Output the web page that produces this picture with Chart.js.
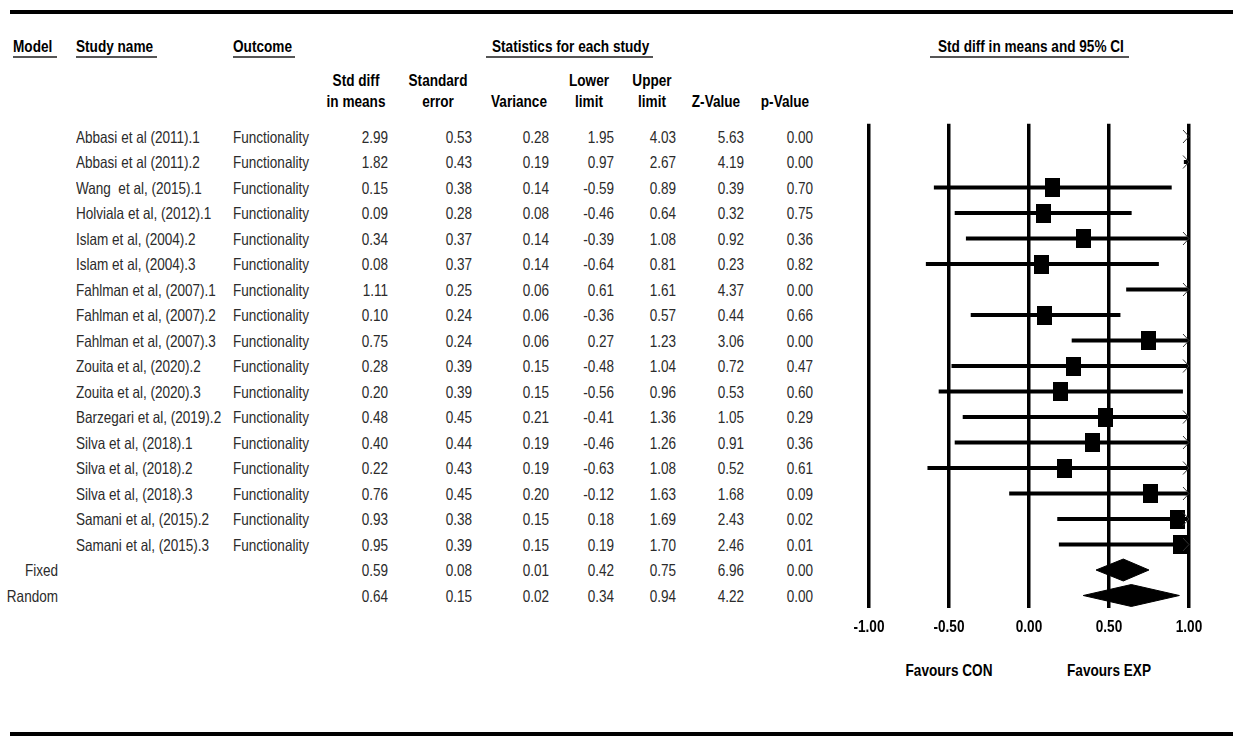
<!DOCTYPE html>
<html>
<head>
<meta charset="utf-8">
<script src="https://cdn.jsdelivr.net/npm/chart.js@4.4.1/dist/chart.umd.min.js"></script>
<style>
html, body { margin: 0; padding: 0; background: #fff; }
#page { position: relative; width: 1238px; height: 739px; overflow: hidden; background: #fff;
        font-family: "Liberation Sans", Arial, sans-serif; }
.t { position: absolute; white-space: pre; line-height: 20px; font-size: 16.5px; color: #2b2b2b; }
.b { font-weight: bold; font-size: 17px; color: #000; }
.rule { position: absolute; background: #000; }
.ul { position: absolute; height: 2px; background: #555; }
#plot { position: absolute; left: 848px; top: 110px; width: 360px; height: 510px; }
</style>
</head>
<body>
<div id="page">
  <canvas id="plot" width="360" height="510"></canvas>
</div>
<script>
// study rows
var studies = ['Abbasi et al (2011).1', 'Abbasi et al (2011).2', 'Wang  et al, (2015).1',
    'Holviala et al, (2012).1', 'Islam et al, (2004).2', 'Islam et al, (2004).3',
    'Fahlman et al, (2007).1', 'Fahlman et al, (2007).2', 'Fahlman et al, (2007).3',
    'Zouita et al, (2020).2', 'Zouita et al, (2020).3', 'Barzegari et al, (2019).2',
    'Silva et al, (2018).1', 'Silva et al, (2018).2', 'Silva et al, (2018).3',
    'Samani et al, (2015).2', 'Samani et al, (2015).3'];
var outcome = 'Functionality';
var stdDiff  = [2.99, 1.82, 0.15, 0.09, 0.34, 0.08, 1.11, 0.10, 0.75, 0.28, 0.20, 0.48, 0.40, 0.22, 0.76, 0.93, 0.95];
var stdErr   = [0.53, 0.43, 0.38, 0.28, 0.37, 0.37, 0.25, 0.24, 0.24, 0.39, 0.39, 0.45, 0.44, 0.43, 0.45, 0.38, 0.39];
var variance = [0.28, 0.19, 0.14, 0.08, 0.14, 0.14, 0.06, 0.06, 0.06, 0.15, 0.15, 0.21, 0.19, 0.19, 0.20, 0.15, 0.15];
var lower    = [1.95, 0.97, -0.59, -0.46, -0.39, -0.64, 0.61, -0.36, 0.27, -0.48, -0.56, -0.41, -0.46, -0.63, -0.12, 0.18, 0.19];
var upper    = [4.03, 2.67, 0.89, 0.64, 1.08, 0.81, 1.61, 0.57, 1.23, 1.04, 0.96, 1.36, 1.26, 1.08, 1.63, 1.69, 1.70];
var zValue   = [5.63, 4.19, 0.39, 0.32, 0.92, 0.23, 4.37, 0.44, 3.06, 0.72, 0.53, 1.05, 0.91, 0.52, 1.68, 2.43, 2.46];
var pValue   = [0.00, 0.00, 0.70, 0.75, 0.36, 0.82, 0.00, 0.66, 0.00, 0.47, 0.60, 0.29, 0.36, 0.61, 0.09, 0.02, 0.01];

// summary rows
var models      = ['Fixed', 'Random'];
var sumStdDiff  = [0.59, 0.64];
var sumStdErr   = [0.08, 0.15];
var sumVariance = [0.01, 0.02];
var sumLower    = [0.42, 0.34];
var sumUpper    = [0.75, 0.94];
var sumZ        = [6.96, 4.22];
var sumP        = [0.00, 0.00];

// axis
var tickValues = [-1, -0.5, 0, 0.5, 1];
var tickLabels = ['-1.00', '-0.50', '0.00', '0.50', '1.00'];

var PLOT_LEFT = 848, PLOT_TOP = 110;
var page = document.getElementById('page');

function addText(str, x, y, align, bold) {
    var el = document.createElement('div');
    el.className = bold ? 't b' : 't';
    el.textContent = str;
    var p = align == 'r' ? 100 : (align == 'c' ? 50 : 0);
    var k = bold ? 0.8 : 0.82;
    el.style.left = x + 'px';
    el.style.top = (y - 10) + 'px';
    el.style.transformOrigin = p + '% 50%';
    el.style.transform = 'translateX(-' + p + '%) scaleX(' + k + ')';
    page.appendChild(el);
}

function addBox(cls, x, y, w, h) {
    var el = document.createElement('div');
    el.className = cls;
    el.style.left = x + 'px';
    el.style.top = y + 'px';
    el.style.width = w + 'px';
    if (h) el.style.height = h + 'px';
    page.appendChild(el);
}

// black box marker for the study points
function makeBox(w, h) {
    var c = document.createElement('canvas');
    c.width = w; c.height = h;
    var g = c.getContext('2d');
    g.fillStyle = '#000';
    g.fillRect(0, 0, w, h);
    return c;
}
var box = makeBox(15, 19);

function diamond(k) {
    var r = studies.length + k, h = 0.43;
    return [{x: sumLower[k], y: r}, {x: sumStdDiff[k], y: r - h},
            {x: sumUpper[k], y: r}, {x: sumStdDiff[k], y: r + h},
            {x: sumLower[k], y: r}];
}

// little ">" where an interval runs off the plotted range
var overflowArrows = {
    id: 'overflowArrows',
    afterDatasetsDraw: function(chart) {
        var ctx = chart.ctx, xs = chart.scales.x, ys = chart.scales.y;
        var xr = xs.getPixelForValue(xs.max);
        ctx.save();
        ctx.strokeStyle = '#333';
        ctx.lineWidth = 1;
        upper.forEach(function(u, i) {
            if (u <= xs.max) return;
            var y = ys.getPixelForValue(i);
            ctx.beginPath();
            ctx.moveTo(xr - 6, y - 6.5);
            ctx.lineTo(xr, y);
            ctx.lineTo(xr - 6, y + 6.5);
            ctx.stroke();
        });
        ctx.restore();
    }
};

var chart = new Chart(document.getElementById('plot'), {
    type: 'scatter',
    data: {
        datasets: [
            {
                type: 'scatter',
                label: 'Std diff in means',
                data: stdDiff.map(function(v, i) { return {x: v, y: i}; }),
                pointStyle: box,
                pointRadius: 9,
                clip: 0,
                order: 0
            },
            {
                type: 'bar',
                label: '95% CI',
                indexAxis: 'y',
                data: lower.map(function(v, i) { return {x: [v, upper[i]], y: i}; }),
                backgroundColor: '#000',
                borderWidth: 0,
                barThickness: 3.5,
                clip: 0,
                order: 1
            },
            {
                type: 'line',
                label: models[0],
                data: diamond(0),
                fill: 'shape',
                backgroundColor: '#000',
                borderColor: '#000',
                borderWidth: 1,
                pointRadius: 0,
                tension: 0,
                order: 2
            },
            {
                type: 'line',
                label: models[1],
                data: diamond(1),
                fill: 'shape',
                backgroundColor: '#000',
                borderColor: '#000',
                borderWidth: 1,
                pointRadius: 0,
                tension: 0,
                order: 2
            }
        ]
    },
    options: {
        responsive: false,
        animation: false,
        events: [],
        layout: {padding: {left: 20.5, right: 19, top: 13.75, bottom: 11.75}},
        plugins: {legend: {display: false}, tooltip: {enabled: false}},
        scales: {
            x: {
                type: 'linear',
                min: -1,
                max: 1,
                afterBuildTicks: function(s) {
                    s.ticks = tickValues.map(function(v) { return {value: v}; });
                },
                grid: {color: '#000', lineWidth: 3.5, drawTicks: false},
                border: {display: false},
                ticks: {display: false}
            },
            y: {
                type: 'linear',
                min: -0.5,
                max: studies.length + models.length - 0.5,
                reverse: true,
                offset: false,
                display: false
            }
        }
    },
    plugins: [overflowArrows]
});

// rules and headers
addBox('rule', 10, 9.5, 1223, 4);
addBox('rule', 10, 732, 1223, 3.5);

addText('Model', 13, 47, 'l', true);            addBox('ul', 13, 56, 44);
addText('Study name', 76, 47, 'l', true);       addBox('ul', 76, 56, 81);
addText('Outcome', 233, 47, 'l', true);         addBox('ul', 233, 56, 62);
addText('Statistics for each study', 492, 47, 'l', true); addBox('ul', 486, 56, 167);
addText('Std diff in means and 95% CI', 938, 47, 'l', true); addBox('ul', 930, 56, 199);

addText('Std diff', 356, 81, 'c', true);  addText('in means', 356, 102, 'c', true);
addText('Standard', 438, 81, 'c', true);  addText('error', 438, 102, 'c', true);
addText('Variance', 519, 102, 'c', true);
addText('Lower', 589, 81, 'c', true);     addText('limit', 589, 102, 'c', true);
addText('Upper', 652, 81, 'c', true);     addText('limit', 652, 102, 'c', true);
addText('Z-Value', 716, 102, 'c', true);
addText('p-Value', 785, 102, 'c', true);

// table body, rows placed on the chart's own y scale
var ys = chart.scales.y, xs = chart.scales.x;
var colRight = [388, 472, 549, 614, 676, 744, 813];

function addRow(i, cells) {
    var y = PLOT_TOP + ys.getPixelForValue(i);
    cells.forEach(function(v, c) { addText(v.toFixed(2), colRight[c], y, 'r', false); });
    return y;
}

studies.forEach(function(name, i) {
    var y = addRow(i, [stdDiff[i], stdErr[i], variance[i], lower[i], upper[i], zValue[i], pValue[i]]);
    addText(name, 76, y, 'l', false);
    addText(outcome, 233, y, 'l', false);
});
models.forEach(function(m, k) {
    var y = addRow(studies.length + k, [sumStdDiff[k], sumStdErr[k], sumVariance[k], sumLower[k], sumUpper[k], sumZ[k], sumP[k]]);
    addText(m, 58, y, 'r', false);
});

// axis labels under the plot
xs.ticks.forEach(function(t, k) {
    addText(tickLabels[k], PLOT_LEFT + xs.getPixelForValue(t.value), 627, 'c', true);
});
addText('Favours CON', PLOT_LEFT + xs.getPixelForValue(-0.5), 671, 'c', true);
addText('Favours EXP', PLOT_LEFT + xs.getPixelForValue(0.5), 671, 'c', true);
</script>
</body>
</html>
